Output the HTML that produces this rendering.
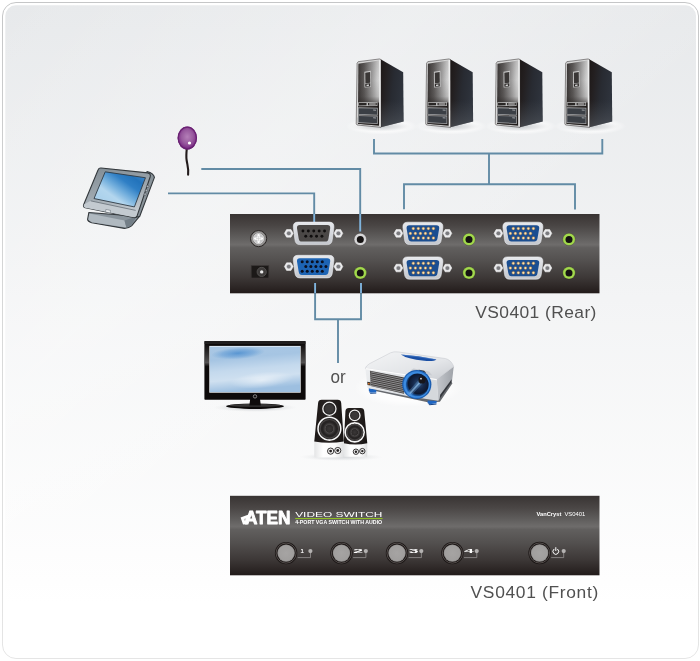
<!DOCTYPE html>
<html lang="en">
<head>
<meta charset="utf-8">
<title>VS0401 connection diagram</title>
<style>
html,body{margin:0;padding:0;background:#ffffff;}
body{width:700px;height:661px;overflow:hidden;font-family:"Liberation Sans",sans-serif;}
svg{display:block;}
text{font-family:"Liberation Sans",sans-serif;}
svg{will-change:transform;transform:translateZ(0);}
</style>
</head>
<body>
<svg width="700" height="661" viewBox="0 0 700 661">

<defs>
  <linearGradient id="bgG" x1="0" y1="0" x2="0" y2="1">
    <stop offset="0" stop-color="#e7e9eb"/>
    <stop offset="0.45" stop-color="#f3f4f5"/>
    <stop offset="0.885" stop-color="#fefefe"/>
    <stop offset="0.92" stop-color="#ffffff"/>
    <stop offset="1" stop-color="#ffffff"/>
  </linearGradient>
  <linearGradient id="frameG" x1="0" y1="0" x2="0" y2="1">
    <stop offset="0" stop-color="#c5c6c7"/>
    <stop offset="0.5" stop-color="#d8d9d9"/>
    <stop offset="1" stop-color="#e5e5e5"/>
  </linearGradient>
  <linearGradient id="bgSheen" x1="0" y1="0" x2="1" y2="1">
    <stop offset="0" stop-color="#ffffff" stop-opacity="0"/>
    <stop offset="0.30" stop-color="#ffffff" stop-opacity="0.28"/>
    <stop offset="0.55" stop-color="#ffffff" stop-opacity="0"/>
  </linearGradient>
  <linearGradient id="panelG" x1="0" y1="0" x2="0" y2="1">
    <stop offset="0" stop-color="#393433"/>
    <stop offset="0.15" stop-color="#4a4645"/>
    <stop offset="0.30" stop-color="#605e5d"/>
    <stop offset="0.385" stop-color="#6e6c6b"/>
    <stop offset="0.40" stop-color="#6a6867"/>
    <stop offset="0.425" stop-color="#615f5e"/>
    <stop offset="0.60" stop-color="#524f4e"/>
    <stop offset="0.80" stop-color="#3d3837"/>
    <stop offset="0.92" stop-color="#2d2726"/>
    <stop offset="1" stop-color="#221b1a"/>
  </linearGradient>
  <linearGradient id="shellG" x1="0" y1="0" x2="0" y2="1">
    <stop offset="0" stop-color="#e6e8ec"/>
    <stop offset="1" stop-color="#c4c7cd"/>
  </linearGradient>
  <radialGradient id="btnG" cx="0.5" cy="0.5" r="0.5">
    <stop offset="0" stop-color="#a6a4a3"/>
    <stop offset="0.85" stop-color="#a09e9d"/>
    <stop offset="1" stop-color="#8a8887"/>
  </radialGradient>
  <radialGradient id="shadowG" cx="0.5" cy="0.5" r="0.5">
    <stop offset="0" stop-color="#9aa0a6" stop-opacity="0.55"/>
    <stop offset="0.6" stop-color="#b8bcc0" stop-opacity="0.30"/>
    <stop offset="1" stop-color="#d8dadc" stop-opacity="0"/>
  </radialGradient>
  <radialGradient id="whiteGlow" cx="0.5" cy="0.5" r="0.5">
    <stop offset="0" stop-color="#ffffff" stop-opacity="0.95"/>
    <stop offset="0.7" stop-color="#ffffff" stop-opacity="0.7"/>
    <stop offset="1" stop-color="#ffffff" stop-opacity="0"/>
  </radialGradient>
</defs>
<rect x="2.5" y="2.5" width="696" height="656" rx="13.5" ry="13.5" fill="#ffffff" stroke="url(#frameG)" stroke-width="1"/>
<rect x="5.3" y="5.3" width="690.7" height="651" rx="10.5" ry="10.5" fill="url(#bgG)"/>
<rect x="5.3" y="5.3" width="690.7" height="651" rx="10.5" ry="10.5" fill="url(#bgSheen)"/>

<defs>
  <linearGradient id="pcFront" x1="0" y1="0" x2="1" y2="0">
    <stop offset="0" stop-color="#3a3635"/>
    <stop offset="0.30" stop-color="#5d5a59"/>
    <stop offset="0.65" stop-color="#9a9999"/>
    <stop offset="0.9" stop-color="#c9c9c9"/>
    <stop offset="1" stop-color="#d6d6d6"/>
  </linearGradient>
  <linearGradient id="pcFrontDark" x1="0" y1="0" x2="0" y2="1">
    <stop offset="0" stop-color="#2b2726" stop-opacity="0.10"/>
    <stop offset="0.30" stop-color="#2b2726" stop-opacity="0"/>
    <stop offset="0.55" stop-color="#2b2726" stop-opacity="0.12"/>
    <stop offset="0.63" stop-color="#262221" stop-opacity="0.45"/>
    <stop offset="0.66" stop-color="#221e1d" stop-opacity="1"/>
    <stop offset="1" stop-color="#1f1b1a" stop-opacity="1"/>
  </linearGradient>
  <linearGradient id="pcSide" x1="0" y1="0" x2="1" y2="0.35">
    <stop offset="0" stop-color="#1d1817"/>
    <stop offset="0.25" stop-color="#231f20"/>
    <stop offset="0.6" stop-color="#282b32"/>
    <stop offset="1" stop-color="#2e333c"/>
  </linearGradient>
  <linearGradient id="pcSideB" x1="0" y1="0" x2="0" y2="1">
    <stop offset="0.6" stop-color="#50545a" stop-opacity="0"/>
    <stop offset="1" stop-color="#5a5e64" stop-opacity="0.55"/>
  </linearGradient>
  <linearGradient id="tmScreen" x1="0.05" y1="0.95" x2="0.95" y2="0.1">
    <stop offset="0" stop-color="#a5cdea"/>
    <stop offset="0.33" stop-color="#b3d6ee"/>
    <stop offset="0.52" stop-color="#6dabdb"/>
    <stop offset="0.70" stop-color="#2f7fc5"/>
    <stop offset="0.86" stop-color="#2273bb"/>
    <stop offset="1" stop-color="#4189cb"/>
  </linearGradient>
  <linearGradient id="tmBezel" x1="0" y1="0" x2="0.3" y2="1">
    <stop offset="0" stop-color="#7f8a92"/>
    <stop offset="0.6" stop-color="#a0a9b0"/>
    <stop offset="1" stop-color="#c4cbd1"/>
  </linearGradient>
  <linearGradient id="tvScreen" x1="0" y1="0" x2="0.18" y2="1">
    <stop offset="0" stop-color="#a9c7e4"/>
    <stop offset="0.30" stop-color="#a6c5e3"/>
    <stop offset="0.55" stop-color="#c4d9ed"/>
    <stop offset="0.75" stop-color="#cfe0f0"/>
    <stop offset="1" stop-color="#9dbfe0"/>
  </linearGradient>
  <radialGradient id="tvSwoosh" cx="0.5" cy="0.5" r="0.5">
    <stop offset="0" stop-color="#3f86cc" stop-opacity="0.75"/>
    <stop offset="0.6" stop-color="#4a8dd0" stop-opacity="0.4"/>
    <stop offset="1" stop-color="#5b9ad2" stop-opacity="0"/>
  </radialGradient>
  <radialGradient id="tvGlare" cx="0.5" cy="0.5" r="0.5">
    <stop offset="0" stop-color="#ffffff" stop-opacity="0.55"/>
    <stop offset="1" stop-color="#ffffff" stop-opacity="0"/>
  </radialGradient>
  <linearGradient id="tvGloss" x1="0" y1="0" x2="0" y2="1">
    <stop offset="0" stop-color="#5a5858" stop-opacity="0"/>
    <stop offset="0.35" stop-color="#6a6868" stop-opacity="0.75"/>
    <stop offset="0.42" stop-color="#5a5858" stop-opacity="0"/>
  </linearGradient>
  <radialGradient id="micG" cx="0.5" cy="0.45" r="0.55">
    <stop offset="0" stop-color="#b47fb8"/>
    <stop offset="0.55" stop-color="#985a9e"/>
    <stop offset="0.85" stop-color="#80348a"/>
    <stop offset="1" stop-color="#6a2274"/>
  </radialGradient>
  <radialGradient id="coneG" cx="0.5" cy="0.5" r="0.5">
    <stop offset="0" stop-color="#3a3737"/>
    <stop offset="0.55" stop-color="#2d2a2a"/>
    <stop offset="0.62" stop-color="#4a4747"/>
    <stop offset="1" stop-color="#262323"/>
  </radialGradient>
  <linearGradient id="spkBody" x1="0" y1="0" x2="1" y2="0">
    <stop offset="0" stop-color="#1d1817"/>
    <stop offset="0.5" stop-color="#2a2524"/>
    <stop offset="1" stop-color="#171312"/>
  </linearGradient>
  <linearGradient id="spkBase" x1="0" y1="0" x2="1" y2="0">
    <stop offset="0" stop-color="#e4e5e6"/>
    <stop offset="0.3" stop-color="#ffffff"/>
    <stop offset="0.7" stop-color="#fbfbfb"/>
    <stop offset="1" stop-color="#dfe0e1"/>
  </linearGradient>
  <linearGradient id="pjTop" x1="0" y1="0" x2="1" y2="1">
    <stop offset="0" stop-color="#f4f5f6"/>
    <stop offset="0.6" stop-color="#e3e5e8"/>
    <stop offset="1" stop-color="#c9ccd1"/>
  </linearGradient>
  <linearGradient id="pjFront" x1="0" y1="0" x2="1" y2="0.4">
    <stop offset="0" stop-color="#eceef0"/>
    <stop offset="1" stop-color="#d5d8dc"/>
  </linearGradient>
  <linearGradient id="pjSide" x1="0" y1="0" x2="1" y2="0">
    <stop offset="0" stop-color="#c4c7cc"/>
    <stop offset="1" stop-color="#9fa3a9"/>
  </linearGradient>
  <radialGradient id="lensG" cx="0.55" cy="0.45" r="0.55">
    <stop offset="0" stop-color="#2d4f78"/>
    <stop offset="0.45" stop-color="#15284a"/>
    <stop offset="0.8" stop-color="#0d1830"/>
    <stop offset="1" stop-color="#1d62b4"/>
  </radialGradient>
</defs>
<g>
<ellipse cx="381.64" cy="126.18" rx="36" ry="8.5" fill="url(#whiteGlow)" opacity="0.8"/>
<ellipse cx="380.64" cy="126.48" rx="31" ry="5.2" fill="url(#shadowG)"/>
<polygon points="380.63,59.37 403.19,72.30 403.62,121.44 380.63,127.33" fill="url(#pcSide)"/>
<polygon points="380.63,59.37 403.19,72.30 403.62,121.44 380.63,127.33" fill="url(#pcSideB)"/>
<polygon points="357.07,63.25 358.22,61.67 379.48,58.94 380.92,59.51 380.92,127.33 357.07,125.03 356.21,123.74" fill="#d6d6d6" stroke="#2a2626" stroke-width="0.5"/>
<polygon points="358.36,63.82 378.91,60.52 379.20,125.75 357.93,123.74" fill="url(#pcFront)"/>
<polygon points="358.36,63.82 378.91,60.52 379.20,125.75 357.93,123.74" fill="url(#pcFrontDark)"/>
<polygon points="379.20,60.23 380.49,59.66 380.63,126.90 379.48,126.03" fill="#ededed"/>
<polygon points="364.40,71.72 370.86,70.86 371.01,86.95 364.54,87.53" fill="#c9c9c9"/>
<polygon points="365.26,72.73 370.14,72.01 370.29,82.64 365.40,83.22" fill="#3a3736"/>
<polygon points="365.26,83.79 370.29,83.22 370.29,86.38 365.26,86.81" fill="#2b2827"/>
<polygon points="366.55,84.80 368.99,84.51 368.99,85.66 366.55,85.95" fill="#e8e8e8"/>
<polygon points="358.22,102.18 377.47,101.90 377.47,106.06 358.22,106.21" fill="#b9b9b9"/>
<polygon points="358.94,103.05 366.55,102.90 366.55,105.34 358.94,105.49" fill="#2a2726"/>
<polygon points="367.99,102.90 376.75,102.76 376.75,105.34 367.99,105.34" fill="#2a2726"/>
<polygon points="369.14,103.62 375.75,103.48 375.75,104.48 369.14,104.48" fill="#dcdcdc"/>
<polygon points="357.93,107.36 377.76,107.64 377.76,115.40 357.93,114.83" fill="#a8a9ab"/>
<polygon points="358.65,108.22 377.04,108.51 377.04,114.68 358.65,114.11" fill="#3b3f45"/>
<polygon points="357.93,115.26 377.76,115.83 377.76,123.88 357.93,123.02" fill="#a8a9ab"/>
<polygon points="358.65,115.98 377.04,116.55 377.04,123.16 358.65,122.30" fill="#3b3f45"/>
<polygon points="373.16,109.51 376.03,109.66 376.03,110.66 373.16,110.52" fill="#9fa2a6"/>
<polygon points="373.16,117.27 376.03,117.41 376.03,118.42 373.16,118.28" fill="#9fa2a6"/>
</g>
<g>
<ellipse cx="451.14" cy="126.18" rx="36" ry="8.5" fill="url(#whiteGlow)" opacity="0.8"/>
<ellipse cx="450.14" cy="126.48" rx="31" ry="5.2" fill="url(#shadowG)"/>
<polygon points="450.13,59.37 472.69,72.30 473.12,121.44 450.13,127.33" fill="url(#pcSide)"/>
<polygon points="450.13,59.37 472.69,72.30 473.12,121.44 450.13,127.33" fill="url(#pcSideB)"/>
<polygon points="426.57,63.25 427.72,61.67 448.98,58.94 450.42,59.51 450.42,127.33 426.57,125.03 425.71,123.74" fill="#d6d6d6" stroke="#2a2626" stroke-width="0.5"/>
<polygon points="427.86,63.82 448.41,60.52 448.70,125.75 427.43,123.74" fill="url(#pcFront)"/>
<polygon points="427.86,63.82 448.41,60.52 448.70,125.75 427.43,123.74" fill="url(#pcFrontDark)"/>
<polygon points="448.70,60.23 449.99,59.66 450.13,126.90 448.98,126.03" fill="#ededed"/>
<polygon points="433.90,71.72 440.36,70.86 440.51,86.95 434.04,87.53" fill="#c9c9c9"/>
<polygon points="434.76,72.73 439.64,72.01 439.79,82.64 434.90,83.22" fill="#3a3736"/>
<polygon points="434.76,83.79 439.79,83.22 439.79,86.38 434.76,86.81" fill="#2b2827"/>
<polygon points="436.05,84.80 438.49,84.51 438.49,85.66 436.05,85.95" fill="#e8e8e8"/>
<polygon points="427.72,102.18 446.97,101.90 446.97,106.06 427.72,106.21" fill="#b9b9b9"/>
<polygon points="428.44,103.05 436.05,102.90 436.05,105.34 428.44,105.49" fill="#2a2726"/>
<polygon points="437.49,102.90 446.25,102.76 446.25,105.34 437.49,105.34" fill="#2a2726"/>
<polygon points="438.64,103.62 445.25,103.48 445.25,104.48 438.64,104.48" fill="#dcdcdc"/>
<polygon points="427.43,107.36 447.26,107.64 447.26,115.40 427.43,114.83" fill="#a8a9ab"/>
<polygon points="428.15,108.22 446.54,108.51 446.54,114.68 428.15,114.11" fill="#3b3f45"/>
<polygon points="427.43,115.26 447.26,115.83 447.26,123.88 427.43,123.02" fill="#a8a9ab"/>
<polygon points="428.15,115.98 446.54,116.55 446.54,123.16 428.15,122.30" fill="#3b3f45"/>
<polygon points="442.66,109.51 445.53,109.66 445.53,110.66 442.66,110.52" fill="#9fa2a6"/>
<polygon points="442.66,117.27 445.53,117.41 445.53,118.42 442.66,118.28" fill="#9fa2a6"/>
</g>
<g>
<ellipse cx="520.74" cy="126.18" rx="36" ry="8.5" fill="url(#whiteGlow)" opacity="0.8"/>
<ellipse cx="519.74" cy="126.48" rx="31" ry="5.2" fill="url(#shadowG)"/>
<polygon points="519.73,59.37 542.29,72.30 542.72,121.44 519.73,127.33" fill="url(#pcSide)"/>
<polygon points="519.73,59.37 542.29,72.30 542.72,121.44 519.73,127.33" fill="url(#pcSideB)"/>
<polygon points="496.17,63.25 497.32,61.67 518.58,58.94 520.02,59.51 520.02,127.33 496.17,125.03 495.31,123.74" fill="#d6d6d6" stroke="#2a2626" stroke-width="0.5"/>
<polygon points="497.46,63.82 518.01,60.52 518.30,125.75 497.03,123.74" fill="url(#pcFront)"/>
<polygon points="497.46,63.82 518.01,60.52 518.30,125.75 497.03,123.74" fill="url(#pcFrontDark)"/>
<polygon points="518.30,60.23 519.59,59.66 519.73,126.90 518.58,126.03" fill="#ededed"/>
<polygon points="503.50,71.72 509.96,70.86 510.11,86.95 503.64,87.53" fill="#c9c9c9"/>
<polygon points="504.36,72.73 509.24,72.01 509.39,82.64 504.50,83.22" fill="#3a3736"/>
<polygon points="504.36,83.79 509.39,83.22 509.39,86.38 504.36,86.81" fill="#2b2827"/>
<polygon points="505.65,84.80 508.09,84.51 508.09,85.66 505.65,85.95" fill="#e8e8e8"/>
<polygon points="497.32,102.18 516.57,101.90 516.57,106.06 497.32,106.21" fill="#b9b9b9"/>
<polygon points="498.04,103.05 505.65,102.90 505.65,105.34 498.04,105.49" fill="#2a2726"/>
<polygon points="507.09,102.90 515.85,102.76 515.85,105.34 507.09,105.34" fill="#2a2726"/>
<polygon points="508.24,103.62 514.85,103.48 514.85,104.48 508.24,104.48" fill="#dcdcdc"/>
<polygon points="497.03,107.36 516.86,107.64 516.86,115.40 497.03,114.83" fill="#a8a9ab"/>
<polygon points="497.75,108.22 516.14,108.51 516.14,114.68 497.75,114.11" fill="#3b3f45"/>
<polygon points="497.03,115.26 516.86,115.83 516.86,123.88 497.03,123.02" fill="#a8a9ab"/>
<polygon points="497.75,115.98 516.14,116.55 516.14,123.16 497.75,122.30" fill="#3b3f45"/>
<polygon points="512.26,109.51 515.13,109.66 515.13,110.66 512.26,110.52" fill="#9fa2a6"/>
<polygon points="512.26,117.27 515.13,117.41 515.13,118.42 512.26,118.28" fill="#9fa2a6"/>
</g>
<g>
<ellipse cx="590.24" cy="126.18" rx="36" ry="8.5" fill="url(#whiteGlow)" opacity="0.8"/>
<ellipse cx="589.24" cy="126.48" rx="31" ry="5.2" fill="url(#shadowG)"/>
<polygon points="589.23,59.37 611.79,72.30 612.22,121.44 589.23,127.33" fill="url(#pcSide)"/>
<polygon points="589.23,59.37 611.79,72.30 612.22,121.44 589.23,127.33" fill="url(#pcSideB)"/>
<polygon points="565.67,63.25 566.82,61.67 588.08,58.94 589.52,59.51 589.52,127.33 565.67,125.03 564.81,123.74" fill="#d6d6d6" stroke="#2a2626" stroke-width="0.5"/>
<polygon points="566.96,63.82 587.51,60.52 587.80,125.75 566.53,123.74" fill="url(#pcFront)"/>
<polygon points="566.96,63.82 587.51,60.52 587.80,125.75 566.53,123.74" fill="url(#pcFrontDark)"/>
<polygon points="587.80,60.23 589.09,59.66 589.23,126.90 588.08,126.03" fill="#ededed"/>
<polygon points="573.00,71.72 579.46,70.86 579.61,86.95 573.14,87.53" fill="#c9c9c9"/>
<polygon points="573.86,72.73 578.74,72.01 578.89,82.64 574.00,83.22" fill="#3a3736"/>
<polygon points="573.86,83.79 578.89,83.22 578.89,86.38 573.86,86.81" fill="#2b2827"/>
<polygon points="575.15,84.80 577.59,84.51 577.59,85.66 575.15,85.95" fill="#e8e8e8"/>
<polygon points="566.82,102.18 586.07,101.90 586.07,106.06 566.82,106.21" fill="#b9b9b9"/>
<polygon points="567.54,103.05 575.15,102.90 575.15,105.34 567.54,105.49" fill="#2a2726"/>
<polygon points="576.59,102.90 585.35,102.76 585.35,105.34 576.59,105.34" fill="#2a2726"/>
<polygon points="577.74,103.62 584.35,103.48 584.35,104.48 577.74,104.48" fill="#dcdcdc"/>
<polygon points="566.53,107.36 586.36,107.64 586.36,115.40 566.53,114.83" fill="#a8a9ab"/>
<polygon points="567.25,108.22 585.64,108.51 585.64,114.68 567.25,114.11" fill="#3b3f45"/>
<polygon points="566.53,115.26 586.36,115.83 586.36,123.88 566.53,123.02" fill="#a8a9ab"/>
<polygon points="567.25,115.98 585.64,116.55 585.64,123.16 567.25,122.30" fill="#3b3f45"/>
<polygon points="581.76,109.51 584.63,109.66 584.63,110.66 581.76,110.52" fill="#9fa2a6"/>
<polygon points="581.76,117.27 584.63,117.41 584.63,118.42 581.76,118.28" fill="#9fa2a6"/>
</g>
<g>
<path d="M187.1,146 C186.6,151 185.9,155 186.6,160 C187.3,165 188.9,169 188.1,174.6" fill="none" stroke="#221b1b" stroke-width="2.1" stroke-linecap="round"/>
<ellipse cx="187.3" cy="138" rx="9.7" ry="11.5" fill="url(#micG)"/>
<ellipse cx="187.3" cy="138" rx="9.1" ry="10.9" fill="none" stroke="#6a2273" stroke-width="1.3"/>
<circle cx="189.5" cy="143" r="1.6" fill="#ffffff"/>
</g>
<g stroke-linejoin="round">
<path d="M88.88,212.44 L87.60,219.38 Q87.85,221.44 91.71,222.72 L124.49,228.38 Q128.34,228.38 131.56,225.81 L139.27,216.56 Z" fill="#8a949c" stroke="#33383c" stroke-width="1.1"/>
<polygon points="89.40,213.47 124.49,220.41 126.41,227.61 91.71,222.21 88.37,219.64" fill="#b0b9c0"/>
<polygon points="124.49,220.41 136.70,216.56 131.04,225.55 126.41,227.61" fill="#737e87"/>
<path d="M146.98,171.57 Q153.66,173.37 154.43,177.35 L139.65,216.56 L135.41,217.33 Z" fill="#89939a" stroke="#33383c" stroke-width="1.1"/>
<path d="M101.09,167.97 L147.62,172.85 Q151.09,173.62 150.19,176.71 L136.95,216.30 Q136.18,218.10 133.48,217.58 L85.28,207.81 Q82.71,207.04 83.74,204.47 L98.14,169.77 Q98.91,167.71 101.09,167.97 Z" fill="url(#tmBezel)" stroke="#33383c" stroke-width="1.1"/>
<path d="M90.68,200.87 L135.67,210.39 L133.87,217.33 L85.28,207.69 Q82.97,207.04 84.00,204.47 Z" fill="#c3cad0"/>
<path d="M90.68,200.87 L135.67,210.39" stroke="#59626a" stroke-width="0.7" fill="none"/>
<polygon points="105.21,171.83 145.44,177.74 134.38,206.92 94.02,198.56" fill="url(#tmScreen)" stroke="#2f3a44" stroke-width="0.9"/>
<polygon points="105.85,209.49 110.48,210.39 110.22,212.96 105.59,212.06" fill="#eef1f3" stroke="#59626a" stroke-width="0.5"/>
<circle cx="147.75" cy="186.35" r="1.2" fill="#aeb6bc" stroke="#3c4146" stroke-width="0.5"/><circle cx="146.47" cy="190.46" r="1.2" fill="#aeb6bc" stroke="#3c4146" stroke-width="0.5"/><circle cx="145.18" cy="194.19" r="1.2" fill="#aeb6bc" stroke="#3c4146" stroke-width="0.5"/>
</g>
<g>
<ellipse cx="255" cy="407.5" rx="42" ry="4.5" fill="url(#shadowG)"/>
<ellipse cx="255" cy="406.2" rx="29" ry="2.7" fill="#0c0a0a"/>
<ellipse cx="255" cy="405.4" rx="26" ry="1.4" fill="#4a4848" opacity="0.7"/>
<path d="M250.2,399 H260 L260.8,405.6 H249.4 Z" fill="#0f0c0c"/>
<rect x="204.4" y="341" width="101.2" height="58.8" rx="0.8" fill="#0d0a0a"/>
<rect x="204.4" y="341" width="101.2" height="3" fill="#2a2727" opacity="0.7"/>
<rect x="204.8" y="343" width="4.2" height="56" fill="url(#tvGloss)"/>
<rect x="301" y="343" width="4.2" height="56" fill="url(#tvGloss)"/>
<rect x="209.3" y="345.9" width="91.4" height="46.8" fill="#f3f7fb"/>
<rect x="210" y="346.6" width="90" height="45.4" fill="url(#tvScreen)"/>
<ellipse cx="238" cy="353.2" rx="27" ry="6" fill="url(#tvSwoosh)" transform="rotate(-4 238 353)"/>
<ellipse cx="262" cy="380" rx="32" ry="8" fill="url(#tvGlare)" transform="rotate(-6 262 380)"/>
<circle cx="255" cy="396.4" r="1.7" fill="none" stroke="#c9c9c9" stroke-width="0.6"/>
</g>
<g>
<ellipse cx="341" cy="457" rx="42" ry="4" fill="url(#shadowG)" opacity="0.7"/>
<path d="M343.81,442.28 L367.29,442.28 L367.29,453.81 Q367.29,456.81 366.81,456.81 L344.3,456.81 Q343.81,456.81 343.81,453.81 Z" fill="url(#spkBase)"/>
<path d="M348.95,407.91 H360.7 Q363.9,407.91 364.2,411.11 L367.29,443.25 Q355.55,445.85 343.81,443.25 L345.45,411.11 Q345.75,407.91 348.95,407.91 Z" fill="url(#spkBody)"/>
<circle cx="354.7" cy="415.42" r="5.3" fill="#2b2828" stroke="#f4f4f4" stroke-width="1.25"/><circle cx="354.7" cy="415.42" r="3.60" fill="#3a3737"/>
<circle cx="354.7" cy="432.36" r="9.5" fill="#262323" stroke="#f6f6f6" stroke-width="1.55"/><circle cx="354.7" cy="432.36" r="7.79" fill="none" stroke="#454242" stroke-width="1.4"/><circle cx="354.7" cy="432.36" r="5.51" fill="url(#coneG)"/>
<circle cx="355.92" cy="451.72" r="2.7" fill="#f1f1f1" stroke="#242121" stroke-width="0.9"/><circle cx="355.92" cy="451.72" r="1.22" fill="#242121"/><circle cx="362.33" cy="451.12" r="2.7" fill="#f1f1f1" stroke="#242121" stroke-width="0.9"/><circle cx="362.33" cy="451.12" r="1.22" fill="#242121"/>
<path d="M314.28,440.47 L343.81,440.47 L343.81,454.41 Q343.81,457.41 343.33,457.41 L314.77,457.41 Q314.28,457.41 314.28,454.41 Z" fill="url(#spkBase)"/>
<path d="M321.59999999999997,399.68 H337.71000000000004 Q340.91,399.68 341.21000000000004,402.88 L343.81,441.44 Q329.04499999999996,444.04 314.28,441.44 L318.09999999999997,402.88 Q318.4,399.68 321.59999999999997,399.68 Z" fill="url(#spkBody)"/>
<circle cx="329.41" cy="408.76" r="6.6" fill="#2b2828" stroke="#f4f4f4" stroke-width="1.25"/><circle cx="329.41" cy="408.76" r="4.49" fill="#3a3737"/>
<circle cx="329.41" cy="428.73" r="11.4" fill="#262323" stroke="#f6f6f6" stroke-width="1.55"/><circle cx="329.41" cy="428.73" r="9.35" fill="none" stroke="#454242" stroke-width="1.4"/><circle cx="329.41" cy="428.73" r="6.61" fill="url(#coneG)"/>
<circle cx="330.62" cy="451.12" r="3.1" fill="#f1f1f1" stroke="#242121" stroke-width="0.9"/><circle cx="330.62" cy="451.12" r="1.40" fill="#242121"/><circle cx="337.76" cy="450.51" r="3.1" fill="#f1f1f1" stroke="#242121" stroke-width="0.9"/><circle cx="337.76" cy="450.51" r="1.40" fill="#242121"/>
</g>
<g stroke-linejoin="round">
<ellipse cx="408" cy="388" rx="54" ry="19" fill="url(#whiteGlow)"/>
<path d="M370.72,390.00 L428.90,402.58 L439.91,401.64 L452.48,383.24 L450.91,381.19 L438.33,399.75 L373.87,387.96 Z" fill="#4b4f55" opacity="0.85"/>
<polygon points="368.84,387.96 376.23,389.69 376.23,392.52 370.72,392.83 368.84,391.10" fill="#1f66c2"/>
<polygon points="368.84,391.26 370.72,392.99 376.23,392.67 376.23,393.46 370.41,393.77" fill="#0f3f86"/>
<polygon points="427.64,400.53 436.76,401.01 436.45,403.36 429.69,404.15 427.64,402.89" fill="#1f66c2"/>
<polygon points="427.64,402.89 429.69,404.31 436.45,403.52 436.45,404.47 429.53,405.25" fill="#0f3f86"/>
<path d="M436.76,379.31 L453.74,366.42 L452.01,381.19 L438.02,400.69 Z" fill="url(#pjSide)"/>
<path d="M440.22,394.72 L451.70,379.31 L451.38,382.45 L439.59,399.12 Z" fill="#34373c"/>
<path d="M365.38,368.30 L436.76,379.31 L438.33,400.69 L409.25,396.60 L367.58,387.96 Z" fill="url(#pjFront)"/>
<path d="M365.38,368.30 Q366.01,365.94 369.15,363.90 L390.38,352.89 Q393.52,351.32 398.24,351.95 L445.41,358.55 Q450.91,359.81 453.74,366.42 L436.76,379.31 Z" fill="url(#pjTop)" stroke="#c2c5ca" stroke-width="0.5"/>
<path d="M366.01,368.62 L436.76,379.62" stroke="#ffffff" stroke-width="1.1" fill="none" opacity="0.9"/>
<path d="M400.91,354.62 Q417.89,355.72 436.45,359.50 Q433.62,361.70 424.18,360.75 Q406.89,359.18 400.91,354.62 Z" fill="#1a4fa4"/>
<path d="M402.96,355.25 Q417.89,356.19 434.40,359.34" stroke="#5a8fd8" stroke-width="0.5" fill="none"/>
<polygon points="410.82,370.19 413.49,368.62 428.90,371.45 432.36,375.53 414.75,372.39" fill="#c9ccd1"/>
<polygon points="418.68,369.87 424.18,370.82 426.07,373.02 420.25,371.92" fill="#2d3036"/>
<polygon points="369.94,370.66 404.06,377.42 404.06,393.77 370.72,385.91" fill="#3f3c3b"/>
<path d="M370.41,371.92 L403.74,378.99" stroke="#c4c6ca" stroke-width="0.6" fill="none"/>
<path d="M370.41,373.84 L403.74,380.91" stroke="#c4c6ca" stroke-width="0.6" fill="none"/>
<path d="M370.41,375.75 L403.74,382.83" stroke="#c4c6ca" stroke-width="0.6" fill="none"/>
<path d="M370.41,377.67 L403.74,384.75" stroke="#c4c6ca" stroke-width="0.6" fill="none"/>
<path d="M370.41,379.59 L403.74,386.67" stroke="#c4c6ca" stroke-width="0.6" fill="none"/>
<path d="M370.41,381.51 L403.74,388.58" stroke="#c4c6ca" stroke-width="0.6" fill="none"/>
<path d="M370.41,383.43 L403.74,390.50" stroke="#c4c6ca" stroke-width="0.6" fill="none"/>
<path d="M370.41,385.35 L403.74,392.42" stroke="#c4c6ca" stroke-width="0.6" fill="none"/>
<polygon points="367.26,381.82 370.41,382.14 370.41,385.60 367.58,384.97" fill="#2a2726"/>
<circle cx="368.84" cy="383.71" r="0.9" fill="#e07a2a"/>
<circle cx="416.79" cy="384.5" r="14.6" fill="#1b5db0"/>
<circle cx="416.79" cy="384.5" r="13.3" fill="#3c8be0"/>
<circle cx="417.29" cy="384.9" r="11.4" fill="url(#lensG)"/>
<path d="M409.79,393.5 L419.79,382.5" stroke="#6aa6e4" stroke-width="5" stroke-linecap="round" opacity="0.35"/>
<path d="M410.29,393.0 L419.79,382.5" stroke="#9ccaf2" stroke-width="1.8" stroke-linecap="round" opacity="0.6"/>
<circle cx="421.99" cy="379.9" r="3.6" fill="#17161b"/>
<circle cx="420.99" cy="378.7" r="0.9" fill="#ffffff" opacity="0.85"/>
</g>
<g fill="none" stroke="#628ba5" stroke-width="1.9" stroke-linejoin="miter">
<path d="M374,139 V153.5 H602.3 V139"/>
<path d="M489,153.5 V184.2"/>
<path d="M404,209.2 V184.2 H575 V209.4"/>
<path d="M201.3,169 H360.2 V215"/>
<path d="M168,193.4 H314.2 V215"/>
<path d="M315.1,292 V319.2 H361 V292"/>
<path d="M338,319.2 V363"/>
</g>
<rect x="230" y="214" width="369.5" height="79.3" fill="url(#panelG)"/>
<g fill="none" stroke="#7fb3dc" stroke-width="1.9"><path d="M314.2,214 V222"/><path d="M360.2,214 V231.5"/><path d="M315.1,283 V293.3"/><path d="M361,283 V293.3"/></g>
<circle cx="258.6" cy="238.6" r="8.1" fill="#7d7b7a" stroke="#2b2726" stroke-width="1"/><circle cx="258.6" cy="238.6" r="6.6" fill="none" stroke="#a9a8a8" stroke-width="0.7"/><circle cx="258.6" cy="238.6" r="5.2" fill="#c9c9ca" stroke="#e6e6e6" stroke-width="0.7"/><path d="M258.6,235.2 V242 M255.2,238.6 H262" stroke="#ffffff" stroke-width="2.3" stroke-linecap="round"/><path d="M258.6,236 V241.2 M256,238.6 H261.2" stroke="#c4c4c4" stroke-width="0.6"/>
<rect x="251.2" y="265.6" width="17.6" height="12.4" fill="#1c1918" stroke="#3c3837" stroke-width="0.6"/><circle cx="261.7" cy="271.9" r="4.6" fill="#3f3c3b" stroke="#5b5857" stroke-width="0.8"/><circle cx="261.7" cy="271.9" r="1.7" fill="#ececec"/>
<polygon points="293.20,233.35 291.00,237.16 286.60,237.16 284.40,233.35 286.60,229.54 291.00,229.54" fill="#ececee" stroke="#fafafa" stroke-width="0.5"/><circle cx="288.8" cy="233.35" r="2.5" fill="#cfd0d3"/><circle cx="288.8" cy="233.35" r="1.9" fill="#7a7a7e"/>
<polygon points="342.80,233.35 340.60,237.16 336.20,237.16 334.00,233.35 336.20,229.54 340.60,229.54" fill="#ececee" stroke="#fafafa" stroke-width="0.5"/><circle cx="338.4" cy="233.35" r="2.5" fill="#cfd0d3"/><circle cx="338.4" cy="233.35" r="1.9" fill="#7a7a7e"/>
<path d="M298,222.1 H329.2 Q334.2,222.1 333.9,227.1 L332.3,239.6 Q331.8,244.6 327.3,244.6 H299.9 Q295.4,244.6 294.9,239.6 L293.3,227.1 Q293,222.1 298,222.1 Z" fill="url(#shellG)" stroke="#eceef1" stroke-width="0.6"/>
<path d="M299.9,225.1 H327.3 Q330.5,225.1 330.2,228.29999999999998 L328.5,238.4 Q328.0,241.6 325.3,241.6 H301.9 Q299.2,241.6 298.7,238.4 L297.0,228.29999999999998 Q296.7,225.1 299.9,225.1 Z" fill="#4b4847"/>
<circle cx="302.95" cy="231.00" r="1.45" fill="#0f0d0d"/><circle cx="308.35" cy="231.00" r="1.45" fill="#0f0d0d"/><circle cx="313.75" cy="231.00" r="1.45" fill="#0f0d0d"/><circle cx="319.15" cy="231.00" r="1.45" fill="#0f0d0d"/><circle cx="324.55" cy="231.00" r="1.45" fill="#0f0d0d"/><circle cx="305.75" cy="236.30" r="1.45" fill="#0f0d0d"/><circle cx="311.15" cy="236.30" r="1.45" fill="#0f0d0d"/><circle cx="316.55" cy="236.30" r="1.45" fill="#0f0d0d"/><circle cx="321.95" cy="236.30" r="1.45" fill="#0f0d0d"/>
<polygon points="293.20,266.60 291.00,270.41 286.60,270.41 284.40,266.60 286.60,262.79 291.00,262.79" fill="#ececee" stroke="#fafafa" stroke-width="0.5"/><circle cx="288.8" cy="266.6" r="2.5" fill="#cfd0d3"/><circle cx="288.8" cy="266.6" r="1.9" fill="#7a7a7e"/>
<polygon points="342.80,266.60 340.60,270.41 336.20,270.41 334.00,266.60 336.20,262.79 340.60,262.79" fill="#ececee" stroke="#fafafa" stroke-width="0.5"/><circle cx="338.4" cy="266.6" r="2.5" fill="#cfd0d3"/><circle cx="338.4" cy="266.6" r="1.9" fill="#7a7a7e"/>
<path d="M298,255.3 H329.2 Q334.2,255.3 333.9,260.3 L332.3,272.90000000000003 Q331.8,277.90000000000003 327.3,277.90000000000003 H299.9 Q295.4,277.90000000000003 294.9,272.90000000000003 L293.3,260.3 Q293,255.3 298,255.3 Z" fill="url(#shellG)" stroke="#eceef1" stroke-width="0.6"/>
<path d="M299.9,258.3 H327.3 Q330.5,258.3 330.2,261.5 L328.5,271.70000000000005 Q328.0,274.90000000000003 325.3,274.90000000000003 H301.9 Q299.2,274.90000000000003 298.7,271.70000000000005 L297.0,261.5 Q296.7,258.3 299.9,258.3 Z" fill="#1d64b4"/>
<circle cx="302.19" cy="261.70" r="1.5" fill="#0b1020"/><circle cx="307.22" cy="261.70" r="1.5" fill="#0b1020"/><circle cx="312.25" cy="261.70" r="1.5" fill="#0b1020"/><circle cx="317.28" cy="261.70" r="1.5" fill="#0b1020"/><circle cx="322.31" cy="261.70" r="1.5" fill="#0b1020"/><circle cx="305.84" cy="266.50" r="1.5" fill="#0b1020"/><circle cx="310.87" cy="266.50" r="1.5" fill="#0b1020"/><circle cx="315.90" cy="266.50" r="1.5" fill="#0b1020"/><circle cx="320.93" cy="266.50" r="1.5" fill="#0b1020"/><circle cx="325.96" cy="266.50" r="1.5" fill="#0b1020"/><circle cx="302.19" cy="271.35" r="1.5" fill="#0b1020"/><circle cx="307.22" cy="271.35" r="1.5" fill="#0b1020"/><circle cx="312.25" cy="271.35" r="1.5" fill="#0b1020"/><circle cx="317.28" cy="271.35" r="1.5" fill="#0b1020"/><circle cx="322.31" cy="271.35" r="1.5" fill="#0b1020"/>
<circle cx="360.3" cy="239.4" r="6.2" fill="#d6d6d7"/><circle cx="360.3" cy="239.4" r="3.5" fill="#151212"/><circle cx="360.3" cy="239.4" r="6.2" fill="none" stroke="#2a2524" stroke-opacity="0.35" stroke-width="0.8"/>
<circle cx="360.3" cy="272.9" r="6.2" fill="#a2d94c"/><circle cx="360.3" cy="272.9" r="3.5" fill="#151212"/><circle cx="360.3" cy="272.9" r="6.2" fill="none" stroke="#2a2524" stroke-opacity="0.35" stroke-width="0.8"/>
<polygon points="402.80,233.35 400.60,237.16 396.20,237.16 394.00,233.35 396.20,229.54 400.60,229.54" fill="#ececee" stroke="#fafafa" stroke-width="0.5"/><circle cx="398.40000000000003" cy="233.35" r="2.5" fill="#cfd0d3"/><circle cx="398.40000000000003" cy="233.35" r="1.9" fill="#7a7a7e"/>
<polygon points="451.80,233.35 449.60,237.16 445.20,237.16 443.00,233.35 445.20,229.54 449.60,229.54" fill="#ececee" stroke="#fafafa" stroke-width="0.5"/><circle cx="447.40000000000003" cy="233.35" r="2.5" fill="#cfd0d3"/><circle cx="447.40000000000003" cy="233.35" r="1.9" fill="#7a7a7e"/>
<path d="M407.6,222.2 H438.20000000000005 Q443.20000000000005,222.2 442.90000000000003,227.2 L441.30000000000007,239.5 Q440.80000000000007,244.5 436.30000000000007,244.5 H409.5 Q405.0,244.5 404.5,239.5 L402.90000000000003,227.2 Q402.6,222.2 407.6,222.2 Z" fill="url(#shellG)" stroke="#eceef1" stroke-width="0.6"/>
<path d="M409.5,225.2 H436.30000000000007 Q439.50000000000006,225.2 439.20000000000005,228.39999999999998 L437.50000000000006,238.3 Q437.00000000000006,241.5 434.30000000000007,241.5 H411.5 Q408.8,241.5 408.3,238.3 L406.6,228.39999999999998 Q406.3,225.2 409.5,225.2 Z" fill="#1b4e90"/>
<circle cx="413.29" cy="228.60" r="1.75" fill="#e8963a" fill-opacity="0.55"/><circle cx="413.29" cy="228.60" r="1.1" fill="#ffe3a8"/><circle cx="418.32" cy="228.60" r="1.75" fill="#e8963a" fill-opacity="0.55"/><circle cx="418.32" cy="228.60" r="1.1" fill="#ffe3a8"/><circle cx="423.35" cy="228.60" r="1.75" fill="#e8963a" fill-opacity="0.55"/><circle cx="423.35" cy="228.60" r="1.1" fill="#ffe3a8"/><circle cx="428.38" cy="228.60" r="1.75" fill="#e8963a" fill-opacity="0.55"/><circle cx="428.38" cy="228.60" r="1.1" fill="#ffe3a8"/><circle cx="433.41" cy="228.60" r="1.75" fill="#e8963a" fill-opacity="0.55"/><circle cx="433.41" cy="228.60" r="1.1" fill="#ffe3a8"/><circle cx="410.34" cy="233.40" r="1.75" fill="#e8963a" fill-opacity="0.55"/><circle cx="410.34" cy="233.40" r="1.1" fill="#ffe3a8"/><circle cx="415.37" cy="233.40" r="1.75" fill="#e8963a" fill-opacity="0.55"/><circle cx="415.37" cy="233.40" r="1.1" fill="#ffe3a8"/><circle cx="420.40" cy="233.40" r="1.75" fill="#e8963a" fill-opacity="0.55"/><circle cx="420.40" cy="233.40" r="1.1" fill="#ffe3a8"/><circle cx="425.43" cy="233.40" r="1.75" fill="#e8963a" fill-opacity="0.55"/><circle cx="425.43" cy="233.40" r="1.1" fill="#ffe3a8"/><circle cx="430.46" cy="233.40" r="1.75" fill="#e8963a" fill-opacity="0.55"/><circle cx="430.46" cy="233.40" r="1.1" fill="#ffe3a8"/><circle cx="413.29" cy="238.10" r="1.75" fill="#e8963a" fill-opacity="0.55"/><circle cx="413.29" cy="238.10" r="1.1" fill="#ffe3a8"/><circle cx="418.32" cy="238.10" r="1.75" fill="#e8963a" fill-opacity="0.55"/><circle cx="418.32" cy="238.10" r="1.1" fill="#ffe3a8"/><circle cx="423.35" cy="238.10" r="1.75" fill="#e8963a" fill-opacity="0.55"/><circle cx="423.35" cy="238.10" r="1.1" fill="#ffe3a8"/><circle cx="428.38" cy="238.10" r="1.75" fill="#e8963a" fill-opacity="0.55"/><circle cx="428.38" cy="238.10" r="1.1" fill="#ffe3a8"/><circle cx="433.41" cy="238.10" r="1.75" fill="#e8963a" fill-opacity="0.55"/><circle cx="433.41" cy="238.10" r="1.1" fill="#ffe3a8"/>
<circle cx="469" cy="239.4" r="6.2" fill="#a2d94c"/><circle cx="469" cy="239.4" r="3.5" fill="#151212"/><circle cx="469" cy="239.4" r="6.2" fill="none" stroke="#2a2524" stroke-opacity="0.35" stroke-width="0.8"/>
<polygon points="402.80,268.05 400.60,271.86 396.20,271.86 394.00,268.05 396.20,264.24 400.60,264.24" fill="#ececee" stroke="#fafafa" stroke-width="0.5"/><circle cx="398.40000000000003" cy="268.04999999999995" r="2.5" fill="#cfd0d3"/><circle cx="398.40000000000003" cy="268.04999999999995" r="1.9" fill="#7a7a7e"/>
<polygon points="451.80,268.05 449.60,271.86 445.20,271.86 443.00,268.05 445.20,264.24 449.60,264.24" fill="#ececee" stroke="#fafafa" stroke-width="0.5"/><circle cx="447.40000000000003" cy="268.04999999999995" r="2.5" fill="#cfd0d3"/><circle cx="447.40000000000003" cy="268.04999999999995" r="1.9" fill="#7a7a7e"/>
<path d="M407.6,256.9 H438.20000000000005 Q443.20000000000005,256.9 442.90000000000003,261.9 L441.30000000000007,274.2 Q440.80000000000007,279.2 436.30000000000007,279.2 H409.5 Q405.0,279.2 404.5,274.2 L402.90000000000003,261.9 Q402.6,256.9 407.6,256.9 Z" fill="url(#shellG)" stroke="#eceef1" stroke-width="0.6"/>
<path d="M409.5,259.9 H436.30000000000007 Q439.50000000000006,259.9 439.20000000000005,263.09999999999997 L437.50000000000006,273.0 Q437.00000000000006,276.2 434.30000000000007,276.2 H411.5 Q408.8,276.2 408.3,273.0 L406.6,263.09999999999997 Q406.3,259.9 409.5,259.9 Z" fill="#1b4e90"/>
<circle cx="413.29" cy="263.30" r="1.75" fill="#e8963a" fill-opacity="0.55"/><circle cx="413.29" cy="263.30" r="1.1" fill="#ffe3a8"/><circle cx="418.32" cy="263.30" r="1.75" fill="#e8963a" fill-opacity="0.55"/><circle cx="418.32" cy="263.30" r="1.1" fill="#ffe3a8"/><circle cx="423.35" cy="263.30" r="1.75" fill="#e8963a" fill-opacity="0.55"/><circle cx="423.35" cy="263.30" r="1.1" fill="#ffe3a8"/><circle cx="428.38" cy="263.30" r="1.75" fill="#e8963a" fill-opacity="0.55"/><circle cx="428.38" cy="263.30" r="1.1" fill="#ffe3a8"/><circle cx="433.41" cy="263.30" r="1.75" fill="#e8963a" fill-opacity="0.55"/><circle cx="433.41" cy="263.30" r="1.1" fill="#ffe3a8"/><circle cx="410.34" cy="268.10" r="1.75" fill="#e8963a" fill-opacity="0.55"/><circle cx="410.34" cy="268.10" r="1.1" fill="#ffe3a8"/><circle cx="415.37" cy="268.10" r="1.75" fill="#e8963a" fill-opacity="0.55"/><circle cx="415.37" cy="268.10" r="1.1" fill="#ffe3a8"/><circle cx="420.40" cy="268.10" r="1.75" fill="#e8963a" fill-opacity="0.55"/><circle cx="420.40" cy="268.10" r="1.1" fill="#ffe3a8"/><circle cx="425.43" cy="268.10" r="1.75" fill="#e8963a" fill-opacity="0.55"/><circle cx="425.43" cy="268.10" r="1.1" fill="#ffe3a8"/><circle cx="430.46" cy="268.10" r="1.75" fill="#e8963a" fill-opacity="0.55"/><circle cx="430.46" cy="268.10" r="1.1" fill="#ffe3a8"/><circle cx="413.29" cy="272.80" r="1.75" fill="#e8963a" fill-opacity="0.55"/><circle cx="413.29" cy="272.80" r="1.1" fill="#ffe3a8"/><circle cx="418.32" cy="272.80" r="1.75" fill="#e8963a" fill-opacity="0.55"/><circle cx="418.32" cy="272.80" r="1.1" fill="#ffe3a8"/><circle cx="423.35" cy="272.80" r="1.75" fill="#e8963a" fill-opacity="0.55"/><circle cx="423.35" cy="272.80" r="1.1" fill="#ffe3a8"/><circle cx="428.38" cy="272.80" r="1.75" fill="#e8963a" fill-opacity="0.55"/><circle cx="428.38" cy="272.80" r="1.1" fill="#ffe3a8"/><circle cx="433.41" cy="272.80" r="1.75" fill="#e8963a" fill-opacity="0.55"/><circle cx="433.41" cy="272.80" r="1.1" fill="#ffe3a8"/>
<circle cx="469" cy="272.9" r="6.2" fill="#a2d94c"/><circle cx="469" cy="272.9" r="3.5" fill="#151212"/><circle cx="469" cy="272.9" r="6.2" fill="none" stroke="#2a2524" stroke-opacity="0.35" stroke-width="0.8"/>
<polygon points="502.80,233.35 500.60,237.16 496.20,237.16 494.00,233.35 496.20,229.54 500.60,229.54" fill="#ececee" stroke="#fafafa" stroke-width="0.5"/><circle cx="498.40000000000003" cy="233.35" r="2.5" fill="#cfd0d3"/><circle cx="498.40000000000003" cy="233.35" r="1.9" fill="#7a7a7e"/>
<polygon points="551.80,233.35 549.60,237.16 545.20,237.16 543.00,233.35 545.20,229.54 549.60,229.54" fill="#ececee" stroke="#fafafa" stroke-width="0.5"/><circle cx="547.4000000000001" cy="233.35" r="2.5" fill="#cfd0d3"/><circle cx="547.4000000000001" cy="233.35" r="1.9" fill="#7a7a7e"/>
<path d="M507.6,222.2 H538.2 Q543.2,222.2 542.9000000000001,227.2 L541.3000000000001,239.5 Q540.8000000000001,244.5 536.3000000000001,244.5 H509.5 Q505.0,244.5 504.5,239.5 L502.90000000000003,227.2 Q502.6,222.2 507.6,222.2 Z" fill="url(#shellG)" stroke="#eceef1" stroke-width="0.6"/>
<path d="M509.5,225.2 H536.3 Q539.5,225.2 539.2,228.39999999999998 L537.5,238.3 Q537.0,241.5 534.3,241.5 H511.5 Q508.8,241.5 508.3,238.3 L506.6,228.39999999999998 Q506.3,225.2 509.5,225.2 Z" fill="#1b4e90"/>
<circle cx="513.29" cy="228.60" r="1.75" fill="#e8963a" fill-opacity="0.55"/><circle cx="513.29" cy="228.60" r="1.1" fill="#ffe3a8"/><circle cx="518.32" cy="228.60" r="1.75" fill="#e8963a" fill-opacity="0.55"/><circle cx="518.32" cy="228.60" r="1.1" fill="#ffe3a8"/><circle cx="523.35" cy="228.60" r="1.75" fill="#e8963a" fill-opacity="0.55"/><circle cx="523.35" cy="228.60" r="1.1" fill="#ffe3a8"/><circle cx="528.38" cy="228.60" r="1.75" fill="#e8963a" fill-opacity="0.55"/><circle cx="528.38" cy="228.60" r="1.1" fill="#ffe3a8"/><circle cx="533.41" cy="228.60" r="1.75" fill="#e8963a" fill-opacity="0.55"/><circle cx="533.41" cy="228.60" r="1.1" fill="#ffe3a8"/><circle cx="510.34" cy="233.40" r="1.75" fill="#e8963a" fill-opacity="0.55"/><circle cx="510.34" cy="233.40" r="1.1" fill="#ffe3a8"/><circle cx="515.37" cy="233.40" r="1.75" fill="#e8963a" fill-opacity="0.55"/><circle cx="515.37" cy="233.40" r="1.1" fill="#ffe3a8"/><circle cx="520.40" cy="233.40" r="1.75" fill="#e8963a" fill-opacity="0.55"/><circle cx="520.40" cy="233.40" r="1.1" fill="#ffe3a8"/><circle cx="525.43" cy="233.40" r="1.75" fill="#e8963a" fill-opacity="0.55"/><circle cx="525.43" cy="233.40" r="1.1" fill="#ffe3a8"/><circle cx="530.46" cy="233.40" r="1.75" fill="#e8963a" fill-opacity="0.55"/><circle cx="530.46" cy="233.40" r="1.1" fill="#ffe3a8"/><circle cx="513.29" cy="238.10" r="1.75" fill="#e8963a" fill-opacity="0.55"/><circle cx="513.29" cy="238.10" r="1.1" fill="#ffe3a8"/><circle cx="518.32" cy="238.10" r="1.75" fill="#e8963a" fill-opacity="0.55"/><circle cx="518.32" cy="238.10" r="1.1" fill="#ffe3a8"/><circle cx="523.35" cy="238.10" r="1.75" fill="#e8963a" fill-opacity="0.55"/><circle cx="523.35" cy="238.10" r="1.1" fill="#ffe3a8"/><circle cx="528.38" cy="238.10" r="1.75" fill="#e8963a" fill-opacity="0.55"/><circle cx="528.38" cy="238.10" r="1.1" fill="#ffe3a8"/><circle cx="533.41" cy="238.10" r="1.75" fill="#e8963a" fill-opacity="0.55"/><circle cx="533.41" cy="238.10" r="1.1" fill="#ffe3a8"/>
<circle cx="569" cy="239.4" r="6.2" fill="#a2d94c"/><circle cx="569" cy="239.4" r="3.5" fill="#151212"/><circle cx="569" cy="239.4" r="6.2" fill="none" stroke="#2a2524" stroke-opacity="0.35" stroke-width="0.8"/>
<polygon points="502.80,268.05 500.60,271.86 496.20,271.86 494.00,268.05 496.20,264.24 500.60,264.24" fill="#ececee" stroke="#fafafa" stroke-width="0.5"/><circle cx="498.40000000000003" cy="268.04999999999995" r="2.5" fill="#cfd0d3"/><circle cx="498.40000000000003" cy="268.04999999999995" r="1.9" fill="#7a7a7e"/>
<polygon points="551.80,268.05 549.60,271.86 545.20,271.86 543.00,268.05 545.20,264.24 549.60,264.24" fill="#ececee" stroke="#fafafa" stroke-width="0.5"/><circle cx="547.4000000000001" cy="268.04999999999995" r="2.5" fill="#cfd0d3"/><circle cx="547.4000000000001" cy="268.04999999999995" r="1.9" fill="#7a7a7e"/>
<path d="M507.6,256.9 H538.2 Q543.2,256.9 542.9000000000001,261.9 L541.3000000000001,274.2 Q540.8000000000001,279.2 536.3000000000001,279.2 H509.5 Q505.0,279.2 504.5,274.2 L502.90000000000003,261.9 Q502.6,256.9 507.6,256.9 Z" fill="url(#shellG)" stroke="#eceef1" stroke-width="0.6"/>
<path d="M509.5,259.9 H536.3 Q539.5,259.9 539.2,263.09999999999997 L537.5,273.0 Q537.0,276.2 534.3,276.2 H511.5 Q508.8,276.2 508.3,273.0 L506.6,263.09999999999997 Q506.3,259.9 509.5,259.9 Z" fill="#1b4e90"/>
<circle cx="513.29" cy="263.30" r="1.75" fill="#e8963a" fill-opacity="0.55"/><circle cx="513.29" cy="263.30" r="1.1" fill="#ffe3a8"/><circle cx="518.32" cy="263.30" r="1.75" fill="#e8963a" fill-opacity="0.55"/><circle cx="518.32" cy="263.30" r="1.1" fill="#ffe3a8"/><circle cx="523.35" cy="263.30" r="1.75" fill="#e8963a" fill-opacity="0.55"/><circle cx="523.35" cy="263.30" r="1.1" fill="#ffe3a8"/><circle cx="528.38" cy="263.30" r="1.75" fill="#e8963a" fill-opacity="0.55"/><circle cx="528.38" cy="263.30" r="1.1" fill="#ffe3a8"/><circle cx="533.41" cy="263.30" r="1.75" fill="#e8963a" fill-opacity="0.55"/><circle cx="533.41" cy="263.30" r="1.1" fill="#ffe3a8"/><circle cx="510.34" cy="268.10" r="1.75" fill="#e8963a" fill-opacity="0.55"/><circle cx="510.34" cy="268.10" r="1.1" fill="#ffe3a8"/><circle cx="515.37" cy="268.10" r="1.75" fill="#e8963a" fill-opacity="0.55"/><circle cx="515.37" cy="268.10" r="1.1" fill="#ffe3a8"/><circle cx="520.40" cy="268.10" r="1.75" fill="#e8963a" fill-opacity="0.55"/><circle cx="520.40" cy="268.10" r="1.1" fill="#ffe3a8"/><circle cx="525.43" cy="268.10" r="1.75" fill="#e8963a" fill-opacity="0.55"/><circle cx="525.43" cy="268.10" r="1.1" fill="#ffe3a8"/><circle cx="530.46" cy="268.10" r="1.75" fill="#e8963a" fill-opacity="0.55"/><circle cx="530.46" cy="268.10" r="1.1" fill="#ffe3a8"/><circle cx="513.29" cy="272.80" r="1.75" fill="#e8963a" fill-opacity="0.55"/><circle cx="513.29" cy="272.80" r="1.1" fill="#ffe3a8"/><circle cx="518.32" cy="272.80" r="1.75" fill="#e8963a" fill-opacity="0.55"/><circle cx="518.32" cy="272.80" r="1.1" fill="#ffe3a8"/><circle cx="523.35" cy="272.80" r="1.75" fill="#e8963a" fill-opacity="0.55"/><circle cx="523.35" cy="272.80" r="1.1" fill="#ffe3a8"/><circle cx="528.38" cy="272.80" r="1.75" fill="#e8963a" fill-opacity="0.55"/><circle cx="528.38" cy="272.80" r="1.1" fill="#ffe3a8"/><circle cx="533.41" cy="272.80" r="1.75" fill="#e8963a" fill-opacity="0.55"/><circle cx="533.41" cy="272.80" r="1.1" fill="#ffe3a8"/>
<circle cx="569" cy="272.9" r="6.2" fill="#a2d94c"/><circle cx="569" cy="272.9" r="3.5" fill="#151212"/><circle cx="569" cy="272.9" r="6.2" fill="none" stroke="#2a2524" stroke-opacity="0.35" stroke-width="0.8"/>
<text x="475.2" y="318" font-size="17.4" fill="#505050" textLength="121.2" lengthAdjust="spacing">VS0401 (Rear)</text>
<text x="330.6" y="382.7" font-size="18.4" fill="#505050" textLength="15.2" lengthAdjust="spacingAndGlyphs">or</text>
<rect x="230" y="495.8" width="369.5" height="79.5" fill="url(#panelG)"/>
<path d="M240.6,517.6 L248.6,514.6 L250.6,511.0 L253.0,511.0 L247.0,524.3 L243.0,524.4 Z" fill="#ffffff"/>
<text x="244.9" y="524.0" font-size="18.7" font-weight="bold" fill="#ffffff" stroke="#ffffff" stroke-width="0.9" stroke-linejoin="round" textLength="45.6" lengthAdjust="spacingAndGlyphs">ATEN</text>
<path d="M243.8,519.0 L246.2,518.3 L245.4,520.4 L244.3,520.7 Z" fill="#c4c3c3" opacity="0.9"/>
<text x="295.2" y="517" font-size="7" fill="#ffffff" textLength="87.2" lengthAdjust="spacingAndGlyphs">VIDEO SWITCH</text>
<rect x="295.2" y="518" width="87.3" height="1.1" fill="#8fbe22"/>
<text x="295.2" y="524.2" font-size="4.9" font-weight="bold" fill="#ffffff" textLength="87" lengthAdjust="spacingAndGlyphs">4-PORT VGA SWITCH WITH AUDIO</text>
<text x="536.5" y="516.2" font-size="5.6" font-weight="bold" fill="#ffffff" textLength="24.8" lengthAdjust="spacingAndGlyphs">VanCryst</text>
<text x="564.4" y="516.2" font-size="5.6" fill="#ffffff" textLength="21" lengthAdjust="spacingAndGlyphs">VS0401</text>
<circle cx="286.1" cy="553.1" r="11.2" fill="#1a1514"/><circle cx="286.1" cy="553.1" r="10.05" fill="none" stroke="#665f5e" stroke-width="0.75"/><circle cx="286.1" cy="553.1" r="8.7" fill="url(#btnG)"/>
<path d="M297.70000000000005,557.6 H310.5 V553" fill="none" stroke="#a09e9d" stroke-width="0.7"/>
<circle cx="310.40000000000003" cy="551.1" r="2.1" fill="#b4b2b1"/>
<text x="300.5" y="553.3" font-size="6" fill="#ffffff" stroke="#ffffff" stroke-width="0.15">1</text>
<circle cx="341.5" cy="553.1" r="11.2" fill="#1a1514"/><circle cx="341.5" cy="553.1" r="10.05" fill="none" stroke="#665f5e" stroke-width="0.75"/><circle cx="341.5" cy="553.1" r="8.7" fill="url(#btnG)"/>
<path d="M353.1,557.6 H365.9 V553" fill="none" stroke="#a09e9d" stroke-width="0.7"/>
<circle cx="365.8" cy="551.1" r="2.1" fill="#b4b2b1"/>
<text x="353.2" y="552.8" font-size="5.6" font-weight="bold" fill="#ffffff" textLength="9.8" lengthAdjust="spacingAndGlyphs">2</text>
<circle cx="397.0" cy="553.1" r="11.2" fill="#1a1514"/><circle cx="397.0" cy="553.1" r="10.05" fill="none" stroke="#665f5e" stroke-width="0.75"/><circle cx="397.0" cy="553.1" r="8.7" fill="url(#btnG)"/>
<path d="M408.6,557.6 H421.4 V553" fill="none" stroke="#a09e9d" stroke-width="0.7"/>
<circle cx="421.3" cy="551.1" r="2.1" fill="#b4b2b1"/>
<text x="408.7" y="552.8" font-size="5.6" font-weight="bold" fill="#ffffff" textLength="9.8" lengthAdjust="spacingAndGlyphs">3</text>
<circle cx="452.4" cy="553.1" r="11.2" fill="#1a1514"/><circle cx="452.4" cy="553.1" r="10.05" fill="none" stroke="#665f5e" stroke-width="0.75"/><circle cx="452.4" cy="553.1" r="8.7" fill="url(#btnG)"/>
<path d="M464.0,557.6 H476.79999999999995 V553" fill="none" stroke="#a09e9d" stroke-width="0.7"/>
<circle cx="476.7" cy="551.1" r="2.1" fill="#b4b2b1"/>
<text x="464.09999999999997" y="552.8" font-size="5.6" font-weight="bold" fill="#ffffff" textLength="9.8" lengthAdjust="spacingAndGlyphs">4</text>
<circle cx="539.6" cy="553.0" r="11.2" fill="#1a1514"/><circle cx="539.6" cy="553.0" r="10.05" fill="none" stroke="#665f5e" stroke-width="0.75"/><circle cx="539.6" cy="553.0" r="8.7" fill="url(#btnG)"/>
<path d="M551.2,557.6 H563.7 V553" fill="none" stroke="#a09e9d" stroke-width="0.7"/>
<circle cx="563.7" cy="551.1" r="2.1" fill="#b4b2b1"/>
<path d="M553.9,549.2 A2.9,2.9 0 1 0 557.7,549.2" fill="none" stroke="#ffffff" stroke-width="1" stroke-linecap="round"/><path d="M555.8,547.6 V550.6" stroke="#ffffff" stroke-width="1" stroke-linecap="round"/>
<text x="470.6" y="598.1" font-size="17.4" fill="#505050" textLength="127.6" lengthAdjust="spacing">VS0401 (Front)</text>

</svg>
</body>
</html>
